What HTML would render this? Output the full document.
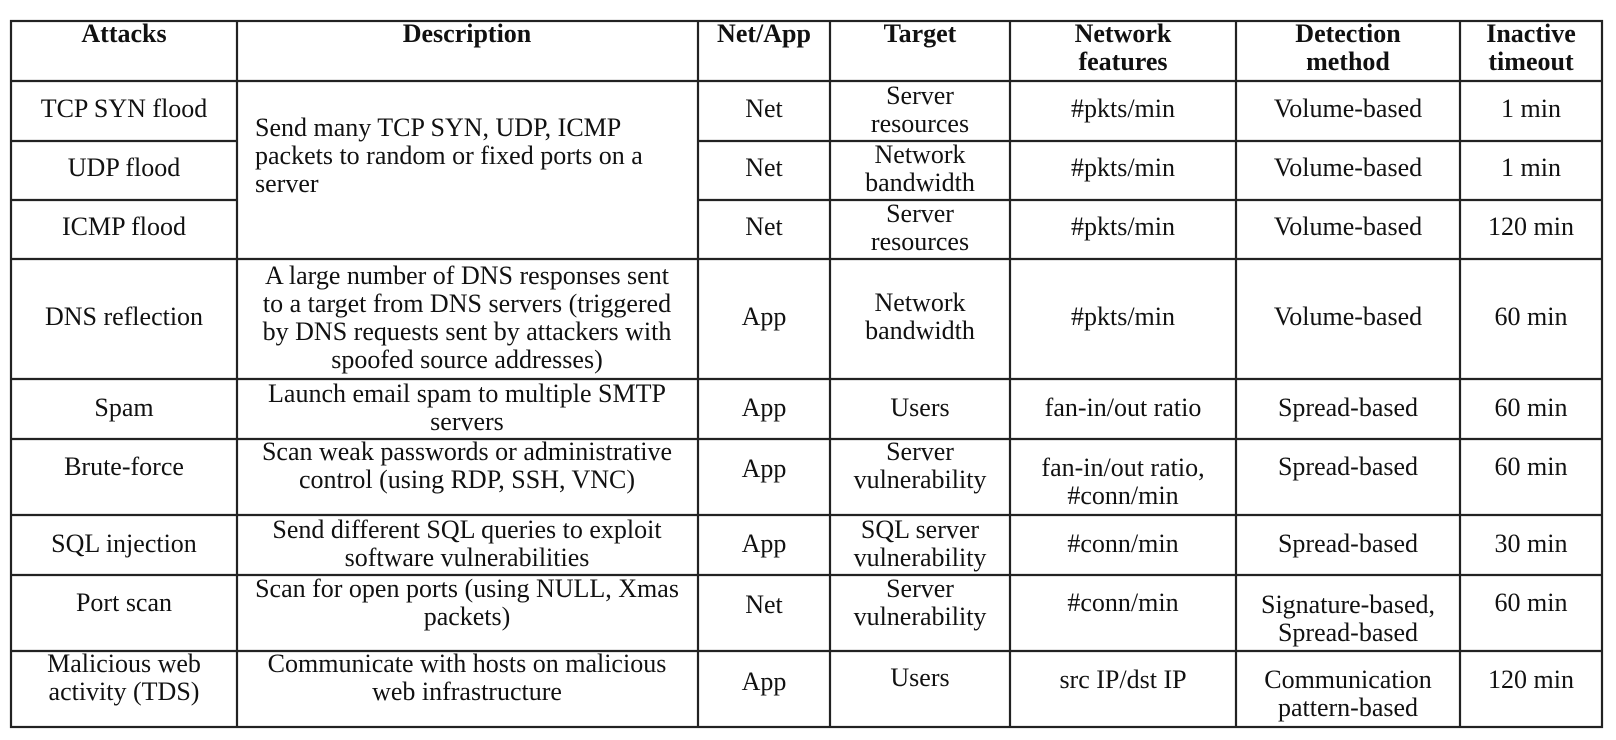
<!DOCTYPE html>
<html><head><meta charset="utf-8"><style>
html,body{margin:0;padding:0;background:#fff;}
body{width:1616px;height:740px;position:relative;overflow:hidden;font-family:"Liberation Serif",serif;font-size:26px;color:#111;}
.t{position:absolute;white-space:nowrap;transform:translate(-50%,-50%);line-height:28px;text-align:center;}
.b{font-weight:bold;}
.l{position:absolute;white-space:nowrap;transform:translateY(-50%);line-height:28px;}
svg{position:absolute;left:0;top:0;}
</style></head><body>
<svg width="1616" height="740" stroke="#222" stroke-width="2.2">
<rect x="11" y="21" width="1591" height="706" fill="none"/>
<line x1="237" y1="21" x2="237" y2="727"/>
<line x1="698" y1="21" x2="698" y2="727"/>
<line x1="830" y1="21" x2="830" y2="727"/>
<line x1="1010" y1="21" x2="1010" y2="727"/>
<line x1="1236" y1="21" x2="1236" y2="727"/>
<line x1="1460" y1="21" x2="1460" y2="727"/>
<line x1="11" y1="81" x2="1602" y2="81"/>
<line x1="11" y1="141" x2="237" y2="141"/><line x1="698" y1="141" x2="1602" y2="141"/>
<line x1="11" y1="200" x2="237" y2="200"/><line x1="698" y1="200" x2="1602" y2="200"/>
<line x1="11" y1="259" x2="1602" y2="259"/>
<line x1="11" y1="379" x2="1602" y2="379"/>
<line x1="11" y1="439" x2="1602" y2="439"/>
<line x1="11" y1="515" x2="1602" y2="515"/>
<line x1="11" y1="575" x2="1602" y2="575"/>
<line x1="11" y1="651" x2="1602" y2="651"/>
</svg>

<div class="t b" style="left:124px;top:34px">Attacks</div>
<div class="t b" style="left:467px;top:34px">Description</div>
<div class="t b" style="left:764px;top:34px">Net/App</div>
<div class="t b" style="left:920px;top:34px">Target</div>
<div class="t b" style="left:1123px;top:48px">Network<br>features</div>
<div class="t b" style="left:1348px;top:48px">Detection<br>method</div>
<div class="t b" style="left:1531px;top:48px">Inactive<br>timeout</div>

<div class="t" style="left:124px;top:109px">TCP SYN flood</div>
<div class="t" style="left:124px;top:168px">UDP flood</div>
<div class="t" style="left:124px;top:227px">ICMP flood</div>
<div class="l" style="left:255px;top:156px">Send many TCP SYN, UDP, ICMP<br>packets to random or fixed ports on a<br>server</div>
<div class="t" style="left:764px;top:109px">Net</div>
<div class="t" style="left:764px;top:168px">Net</div>
<div class="t" style="left:764px;top:227px">Net</div>
<div class="t" style="left:920px;top:110px">Server<br>resources</div>
<div class="t" style="left:920px;top:169px">Network<br>bandwidth</div>
<div class="t" style="left:920px;top:228px">Server<br>resources</div>
<div class="t" style="left:1123px;top:109px">#pkts/min</div>
<div class="t" style="left:1123px;top:168px">#pkts/min</div>
<div class="t" style="left:1123px;top:227px">#pkts/min</div>
<div class="t" style="left:1348px;top:109px">Volume-based</div>
<div class="t" style="left:1348px;top:168px">Volume-based</div>
<div class="t" style="left:1348px;top:227px">Volume-based</div>
<div class="t" style="left:1531px;top:109px">1 min</div>
<div class="t" style="left:1531px;top:168px">1 min</div>
<div class="t" style="left:1531px;top:227px">120 min</div>

<div class="t" style="left:124px;top:317px">DNS reflection</div>
<div class="t" style="left:467px;top:318px">A large number of DNS responses sent<br>to a target from DNS servers (triggered<br>by DNS requests sent by attackers with<br>spoofed source addresses)</div>
<div class="t" style="left:764px;top:317px">App</div>
<div class="t" style="left:920px;top:317px">Network<br>bandwidth</div>
<div class="t" style="left:1123px;top:317px">#pkts/min</div>
<div class="t" style="left:1348px;top:317px">Volume-based</div>
<div class="t" style="left:1531px;top:317px">60 min</div>

<div class="t" style="left:124px;top:408px">Spam</div>
<div class="t" style="left:467px;top:408px">Launch email spam to multiple SMTP<br>servers</div>
<div class="t" style="left:764px;top:408px">App</div>
<div class="t" style="left:920px;top:408px">Users</div>
<div class="t" style="left:1123px;top:408px">fan-in/out ratio</div>
<div class="t" style="left:1348px;top:408px">Spread-based</div>
<div class="t" style="left:1531px;top:408px">60 min</div>

<div class="t" style="left:124px;top:467px">Brute-force</div>
<div class="t" style="left:467px;top:466px">Scan weak passwords or administrative<br>control (using RDP, SSH, VNC)</div>
<div class="t" style="left:764px;top:469px">App</div>
<div class="t" style="left:920px;top:466px">Server<br>vulnerability</div>
<div class="t" style="left:1123px;top:482px">fan-in/out ratio,<br>#conn/min</div>
<div class="t" style="left:1348px;top:467px">Spread-based</div>
<div class="t" style="left:1531px;top:467px">60 min</div>

<div class="t" style="left:124px;top:544px">SQL injection</div>
<div class="t" style="left:467px;top:544px">Send different SQL queries to exploit<br>software vulnerabilities</div>
<div class="t" style="left:764px;top:544px">App</div>
<div class="t" style="left:920px;top:544px">SQL server<br>vulnerability</div>
<div class="t" style="left:1123px;top:544px">#conn/min</div>
<div class="t" style="left:1348px;top:544px">Spread-based</div>
<div class="t" style="left:1531px;top:544px">30 min</div>

<div class="t" style="left:124px;top:603px">Port scan</div>
<div class="t" style="left:467px;top:603px">Scan for open ports (using NULL, Xmas<br>packets)</div>
<div class="t" style="left:764px;top:605px">Net</div>
<div class="t" style="left:920px;top:603px">Server<br>vulnerability</div>
<div class="t" style="left:1123px;top:603px">#conn/min</div>
<div class="t" style="left:1348px;top:619px">Signature-based,<br>Spread-based</div>
<div class="t" style="left:1531px;top:603px">60 min</div>

<div class="t" style="left:124px;top:678px">Malicious web<br>activity (TDS)</div>
<div class="t" style="left:467px;top:678px">Communicate with hosts on malicious<br>web infrastructure</div>
<div class="t" style="left:764px;top:682px">App</div>
<div class="t" style="left:920px;top:678px">Users</div>
<div class="t" style="left:1123px;top:680px">src IP/dst IP</div>
<div class="t" style="left:1348px;top:694px">Communication<br>pattern-based</div>
<div class="t" style="left:1531px;top:680px">120 min</div>
</body></html>
